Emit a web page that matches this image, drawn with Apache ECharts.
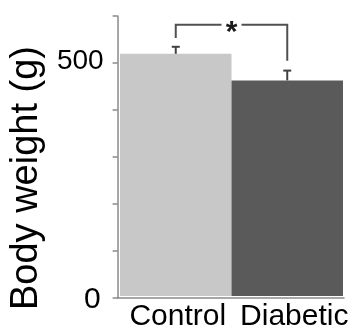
<!DOCTYPE html>
<html>
<head>
<meta charset="utf-8">
<script src="https://cdn.jsdelivr.net/npm/echarts@6/dist/echarts.min.js"></script>
<style>
html,body{margin:0;padding:0;background:#fff;}
#chart{width:353px;height:332px;}
</style>
</head>
<body>
<div id="chart"></div>
<script>
// ---- data ----
var categories = ['Control', 'Diabetic'];
var bodyWeight = [519, 462];          // bar heights (g)
var errorSize = [15, 21];             // error bar (upper) sizes (g)
var yLabelValues = [0, 500];          // labelled ticks
var bracketTop = 581;                 // significance bracket level
var bracketLegEnds = [553, 504];      // bottom of bracket legs per category
var sigMark = '*';

var FONT = '"Liberation Sans", Arial, sans-serif';
var barColors = ['#c8c8c8', '#5a5a5a'];

var chart = echarts.init(document.getElementById('chart'), null, {renderer: 'canvas'});

var option = {
  backgroundColor: '#ffffff',
  animation: false,
  grid: [
    {left: 111, right: 9, top: 16, bottom: 34},
    {left: 120, right: 10, top: 16, bottom: 34}
  ],
  xAxis: [
    {
      type: 'value', gridIndex: 0, min: 0, max: 1,
      axisLine: {show: true, lineStyle: {color: '#8a8a8a', width: 1.5}},
      axisTick: {show: false}, axisLabel: {show: false}, splitLine: {show: false}
    },
    {
      type: 'category', gridIndex: 1, data: categories,
      boundaryGap: true,
      axisLine: {show: false}, axisTick: {show: false},
      axisLabel: {
        interval: 0, hideOverlap: false,
        margin: 6, color: '#000', fontFamily: FONT, fontSize: 30,
        formatter: function (v, i) { return i === 1 ? '{d|' + v + '}' : '{c|' + v + '}'; },
        rich: {
          c: {fontFamily: FONT, fontSize: 30, color: '#000', padding: [0, 0, 0, 4]},
          d: {fontFamily: FONT, fontSize: 30, color: '#000', padding: [0, 0, 0, 14]}
        }
      }
    }
  ],
  yAxis: [
    {
      type: 'value', gridIndex: 0, min: 0, max: 600, interval: 100,
      name: 'Body weight (g)', nameLocation: 'middle', nameGap: 62,
      nameTextStyle: {fontFamily: FONT, fontSize: 38, color: '#000', padding: [0, 42, 0, 0]},
      axisLine: {show: true, lineStyle: {color: '#8a8a8a', width: 1.5}},
      axisTick: {show: true, inside: false, length: 5, lineStyle: {color: '#8a8a8a', width: 1.5}},
      splitLine: {show: false},
      axisLabel: {
        margin: 14, color: '#000', fontFamily: FONT,
        formatter: function (v) {
          if (yLabelValues.indexOf(v) < 0) return '';
          return v === 0 ? '{z|' + v + '}' : '{f|' + v + '}';
        },
        rich: {
          z: {fontFamily: FONT, fontSize: 30, color: '#000', padding: [4, 3, 0, 0]},
          f: {fontFamily: FONT, fontSize: 28, color: '#000', padding: [0, 0, 4, 0]}
        }
      }
    },
    {
      type: 'value', gridIndex: 1, min: 0, max: 600, interval: 100, show: false
    }
  ],
  series: [
    {
      type: 'bar', xAxisIndex: 1, yAxisIndex: 1,
      barWidth: '100%', barCategoryGap: 0,
      data: bodyWeight.map(function (v, i) {
        return {value: v, itemStyle: {color: barColors[i]}};
      }),
      silent: true
    },
    {
      type: 'custom', xAxisIndex: 1, yAxisIndex: 1, silent: true, z: 5,
      data: bodyWeight.map(function (v, i) { return [i, v, v + errorSize[i]]; }),
      renderItem: function (params, api) {
        var base = api.coord([api.value(0), api.value(1)]);
        var top = api.coord([api.value(0), api.value(2)]);
        var cap = 4;
        var st = {stroke: '#404040', lineWidth: 2};
        return {
          type: 'group',
          children: [
            {type: 'line', shape: {x1: top[0], y1: base[1], x2: top[0], y2: top[1]}, style: st},
            {type: 'line', shape: {x1: top[0] - cap, y1: top[1], x2: top[0] + cap, y2: top[1]}, style: st}
          ]
        };
      }
    },
    {
      type: 'custom', xAxisIndex: 1, yAxisIndex: 1, silent: true, z: 6,
      data: [[0, 1, bracketTop, bracketLegEnds[0], bracketLegEnds[1]]],
      renderItem: function (params, api) {
        var pL = api.coord([api.value(0), api.value(2)]);
        var pR = api.coord([api.value(1), api.value(2)]);
        var lEnd = api.coord([api.value(0), api.value(3)]);
        var rEnd = api.coord([api.value(1), api.value(4)]);
        var mid = (pL[0] + pR[0]) / 2;
        var gap = 10;
        var st = {stroke: '#505050', lineWidth: 2, fill: null};
        return {
          type: 'group',
          children: [
            {type: 'polyline', shape: {points: [[pL[0], lEnd[1]], [pL[0], pL[1]], [mid - gap, pL[1]]]}, style: st},
            {type: 'polyline', shape: {points: [[mid + gap, pR[1]], [pR[0], pR[1]], [pR[0], rEnd[1]]]}, style: st},
            {type: 'text', style: {text: sigMark, x: mid, y: pL[1] + 8, align: 'center', verticalAlign: 'middle',
              fontFamily: FONT, fontSize: 30, fontWeight: 'bold', fill: '#1a1a1a'}}
          ]
        };
      }
    }
  ]
};

chart.setOption(option);
</script>
</body>
</html>
